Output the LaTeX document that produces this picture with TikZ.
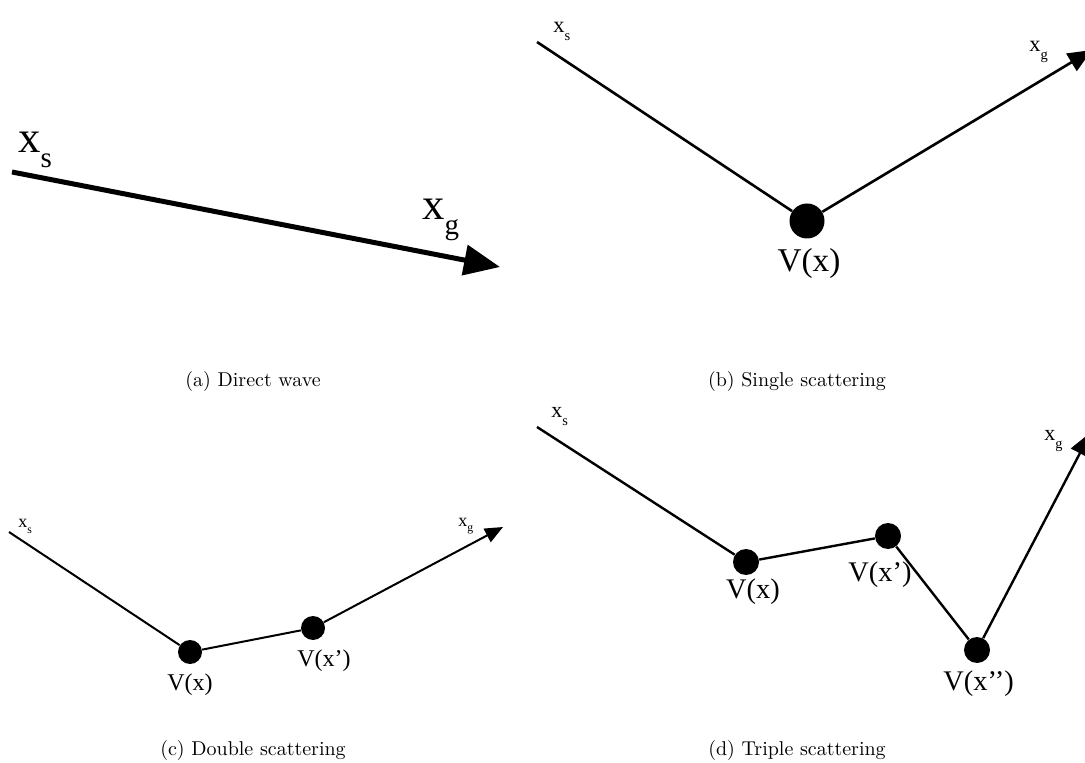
\documentclass[tikz,border=0pt]{standalone}
\usepackage{fontspec}
\usepackage{graphicx}
\newfontfamily\tms{Liberation Serif}
\usetikzlibrary{arrows.meta}
\newcommand{\xsb}[1]{x\raisebox{-0.33em}{\scalebox{0.65}{#1}}}
\tikzset{
  lbl/.style={inner sep=0pt, anchor=base west},
  vlbl/.style={inner sep=0pt, anchor=base},
  scat/.style={circle, fill=black, inner sep=0pt, minimum size=#1},
  captxt/.style={inner sep=0pt, anchor=base, font=\fontsize{10}{12}\selectfont},
  fa/.style={font=\tms\fontsize{22.3}{24}\selectfont},
  fb/.style={font=\tms\fontsize{11.2}{13}\selectfont},
  fbv/.style={font=\tms\fontsize{16.6}{18}\selectfont},
  fc/.style={font=\tms\fontsize{9}{11}\selectfont},
  fcv/.style={font=\tms\fontsize{12}{14}\selectfont},
  fd/.style={font=\tms\fontsize{11}{13}\selectfont},
  fdv/.style={font=\tms\fontsize{14.2}{16}\selectfont},
}
\begin{document}
\begin{tikzpicture}[x=0.5pt,y=-0.5pt]
\clip (0,0) rectangle (1085,763);
\fill[white] (0,0) rectangle (1085,763);

% (a) Direct wave
\coordinate (as) at (12,172);
\coordinate (ag) at (500,267);
\draw[line width=2.5pt, -{Triangle[length=18pt,width=15pt]}] (as) -- (ag);
\node[lbl, fa] (asl) at (18,153) {\xsb{s}};
\node[lbl, fa] (agl) at (422,220) {\xsb{g}};
\node[captxt] (capa) at (253,387) {(a) Direct wave};

% (b) Single scattering
\coordinate (bs) at (537,42);
\node[scat=17.5pt] (b1) at (807,221) {};
\coordinate (bg) at (1092,50);
\draw[line width=1.3pt] (bs) -- (b1);
\draw[line width=1.3pt, -{Triangle[length=12pt,width=10pt]}] (b1) -- (bg);
\node[lbl, fb] (bsl) at (553,33) {\xsb{s}};
\node[lbl, fb] (bgl) at (1029,52) {\xsb{g}};
\node[vlbl, fbv] (b1l) at (809,272) {V(x)};
\node[captxt] (capb) at (797,387) {(b) Single scattering};

% (c) Double scattering
\coordinate (cs) at (9,532);
\node[scat=12pt] (c1) at (190,652) {};
\node[scat=12pt] (c2) at (313,628) {};
\coordinate (cg) at (503,527);
\draw[line width=1pt] (cs) -- (c1) -- (c2);
\draw[line width=1pt, -{Triangle[length=9pt,width=7.5pt]}] (c2) -- (cg);
\node[lbl, fc] (csl) at (18,528) {\xsb{s}};
\node[lbl, fc] (cgl) at (458,526) {\xsb{g}};
\node[vlbl, fcv] (c1l) at (190,690) {V(x)};
\node[lbl, fcv] (c2l) at (297,666) {V(x’)};
\node[captxt] (capc) at (253,755) {(c) Double scattering};

% (d) Triple scattering
\coordinate (ds) at (537,427);
\node[scat=13pt] (d1) at (746,562) {};
\node[scat=13pt] (d2) at (888,536) {};
\node[scat=13pt] (d3) at (977,650) {};
\coordinate (dg) at (1091,432);
\draw[line width=1.2pt] (ds) -- (d1) -- (d2) -- (d3);
\draw[line width=1.2pt, -{Triangle[length=12pt,width=10pt]}] (d3) -- (dg);
\node[lbl, fd] (dsl) at (551,418) {\xsb{s}};
\node[lbl, fd] (dgl) at (1044,441) {\xsb{g}};
\node[vlbl, fdv] (d1l) at (753,598) {V(x)};
\node[lbl, fdv] (d2l) at (848,581) {V(x’)};
\node[lbl, fdv] (d3l) at (943,690) {V(x’’)};
\node[captxt] (capd) at (797,755) {(d) Triple scattering};
\end{tikzpicture}
\end{document}
